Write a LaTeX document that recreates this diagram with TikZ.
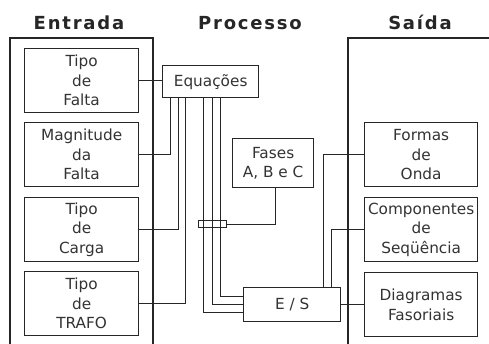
\documentclass[tikz,border=0pt]{standalone}
\usepackage{fontspec}
\setmainfont{DejaVu Sans}
\newfontfamily\titlefont[LetterSpace=10]{DejaVu Sans Bold}
\newfontfamily\boxfont{DejaVu Sans}
\begin{document}
\begin{tikzpicture}[x=1pt,y=-1pt,
  frame/.style={line width=1.4pt, black!85},
  box/.style={draw, line width=1.3pt, black!85, text=black!80, anchor=north west, inner sep=0pt,
     align=center, font=\boxfont\fontsize{15.3}{19.5}\selectfont},
  lbox/.style={box, minimum width=114pt, minimum height=64pt},
  rbox/.style={box, minimum width=113pt, minimum height=64pt},
  title/.style={anchor=base, font=\titlefont\fontsize{18}{20}\selectfont, text=black!85},
  wire/.style={line width=1pt, black!85},
  busbox/.style={draw, line width=1.2pt, black!85, anchor=north west, inner sep=0pt,
     minimum width=28pt, minimum height=7pt}]
\useasboundingbox (0,0) rectangle (489,343);
\fill[white] (0,0) rectangle (489,343);
% titles
\node[title] (tin) at (79,29) {Entrada};
\node[title] (tpr) at (250,29) {Processo};
\node[title] (tout) at (420,29) {Saída};
% big frames
\draw[frame] (10,345) |- (153,38) -- (153,345);
\draw[frame] (348,345) |- (492,38);
% left boxes
\node[lbox] (b1) at (24,48) {Tipo\\de\\Falta};
\node[lbox] (b2) at (24,122) {Magnitude\\da\\Falta};
\node[lbox] (b3) at (24,197) {Tipo\\de\\Carga};
\node[lbox] (b4) at (24,271) {Tipo\\de\\TRAFO};
% process boxes
\node[box, minimum width=96pt, minimum height=32pt] (eq) at (162,65) {Equações};
\node[box, minimum width=81pt, minimum height=49pt] (fa) at (232,138) {Fases\\A, B e C};
\node[box, minimum width=97pt, minimum height=34pt] (es) at (243,287) {E / S};
\node[busbox] (bus) at (198,220) {};
% right boxes
\node[rbox] (r1) at (364,122) {Formas\\de\\Onda};
\node[rbox] (r2) at (364,197) {Componentes\\de\\Seqüência};
\node[rbox] (r3) at (364,272) {Diagramas\\Fasoriais};
% connectors
\draw[wire] (b1.east) -- (b1.east -| eq.west);
\draw[wire] (b2.east) -| ([xshift=8pt]eq.south west);
\draw[wire] (b3.east) -| ([xshift=16pt]eq.south west);
\draw[wire] (b4.east) -| ([xshift=23pt]eq.south west);
\draw[wire] ([xshift=41pt]eq.south west) |- ([yshift=-8pt]es.west);
\draw[wire] ([xshift=50pt]eq.south west) |- (es.west);
\draw[wire] ([xshift=58pt]eq.south west) |- ([yshift=8pt]es.west);
\draw[wire] (bus.east) -| ([xshift=2pt]fa.south);
\draw[wire] ([xshift=80pt]es.north west) |- (r1.west);
\draw[wire] ([xshift=88pt]es.north west) |- (r2.west);
\draw[wire] (es.east) -- (es.east -| r3.west);
\end{tikzpicture}
\end{document}
